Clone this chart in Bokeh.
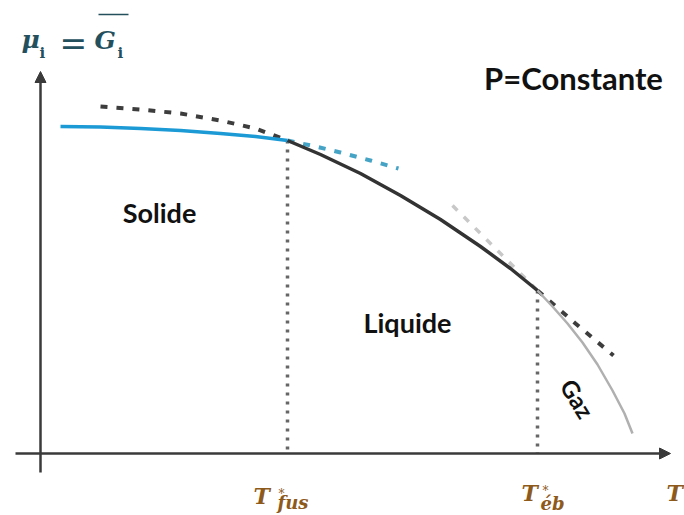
from bokeh.plotting import figure
from bokeh.models import Range1d, Arrow, NormalHead
from bokeh.core.properties import value
from bokeh.embed import file_html
from bokeh.resources import INLINE

# Schematic chemical potential mu_i(T) at constant pressure (arbitrary units)
solid_T = [60, 100, 140, 180, 220, 255, 287]
solid_mu = [389, 388.5, 387, 385, 382, 379, 375]
solid_ext_T = [287, 315, 340, 370, 398]
solid_ext_mu = [375, 369, 363, 355, 347]

liquid_T = [287, 320, 360, 400, 440, 480, 510, 537]
liquid_mu = [375, 361, 342, 320, 296, 269, 247, 225]
liquid_ext_left_T = [100, 140, 180, 220, 255, 287]
liquid_ext_left_mu = [409, 406, 402, 395, 387, 375]
liquid_ext_right_T = [537, 575, 613]
liquid_ext_right_mu = [225, 192, 160]

gas_T = [537, 552, 567, 582, 597, 612, 624, 632]
gas_mu = [225, 209, 192, 173, 151, 125, 102, 82]
gas_ext_T = [452, 488, 537]
gas_ext_mu = [310, 274, 225]

# Transition temperatures and the potential at each crossing
T_fus, mu_fus = 287, 375
T_eb, mu_eb = 537, 225
mu_axis = 62

phase_names = ["Solide", "Liquide", "Gaz"]

p = figure(width=684, height=515, output_backend="svg", toolbar_location=None,
           x_range=Range1d(0, 684), y_range=Range1d(0, 515),
           min_border=0, outline_line_color=None)
p.axis.visible = False
p.grid.visible = False
p.background_fill_color = "white"

# axes drawn as arrows
axis_col = "#3a3a3a"
p.add_layout(Arrow(end=NormalHead(size=11, fill_color=axis_col, line_color=axis_col),
                   x_start=15, y_start=mu_axis, x_end=670, y_end=mu_axis,
                   line_color=axis_col, line_width=2.5))
p.add_layout(Arrow(end=NormalHead(size=11, fill_color=axis_col, line_color=axis_col),
                   x_start=40, y_start=43, x_end=40, y_end=444,
                   line_color=axis_col, line_width=2.5))

# dotted verticals at the transition temperatures
p.line([T_fus, T_fus], [mu_fus, mu_axis], line_color="#666666", line_width=3.5,
       line_dash="3 6")
p.line([T_eb, T_eb], [mu_eb, mu_axis], line_color="#666666", line_width=3.5,
       line_dash="3 6")

# metastable extensions
p.line(liquid_ext_left_T, liquid_ext_left_mu, line_color="#3d3d3d", line_width=4,
       line_dash="7 9")
p.line(liquid_ext_right_T, liquid_ext_right_mu, line_color="#3d3d3d", line_width=4,
       line_dash="7 9")
p.line(solid_ext_T, solid_ext_mu, line_color="#45a3c6", line_width=4, line_dash="7 9")
p.line(gas_ext_T, gas_ext_mu, line_color="#c8c8c8", line_width=3.5, line_dash="7 9")

# stable branches
p.line(solid_T, solid_mu, line_color="#1c9ad6", line_width=3.5)
p.line(liquid_T, liquid_mu, line_color="#333333", line_width=3.5)
p.line(gas_T, gas_mu, line_color="#b0b0b0", line_width=2.5)

# phase labels
sans = value("Lato")
p.text([159, 407], [303, 193], text=phase_names[:2], text_font=sans,
       text_font_style="bold", text_font_size="27px", text_color="#111111",
       text_align="center", text_baseline="middle")
p.text([577], [117], text=[phase_names[2]], angle=-58, angle_units="deg",
       text_font=sans, text_font_style="bold", text_font_size="24px",
       text_color="#111111", text_align="center", text_baseline="middle")
p.text([573], [438], text=["P=Constante"], text_font=sans,
       text_font_style="bold", text_font_size="31px", text_color="#111111",
       text_align="center", text_baseline="middle")

# ordinate label  mu_i = G_i (partial molar)
ylab_col = "#24505e"
serif = value("DejaVu Serif")
p.text([21], [476], text=["μ"], text_font=serif, text_font_style="bold italic",
       text_font_size="25px", text_color=ylab_col, text_baseline="alphabetic")
p.text([39], [463], text=["i"], text_font=serif, text_font_style="bold",
       text_font_size="15px", text_color=ylab_col, text_baseline="alphabetic")
p.text([59], [472], text=["="], text_font=serif, text_font_size="33px",
       text_color=ylab_col, text_baseline="alphabetic")
p.text([94], [475], text=["G"], text_font=serif, text_font_style="bold italic",
       text_font_size="25px", text_color=ylab_col, text_baseline="alphabetic")
p.text([117], [463], text=["i"], text_font=serif, text_font_style="bold",
       text_font_size="15px", text_color=ylab_col, text_baseline="alphabetic")
p.line([98, 128], [501, 501], line_color=ylab_col, line_width=1.5)

# temperature labels
tcol = "#8e5a1c"
p.text([T_fus - 34, T_eb - 16, 666], [20, 23, 23], text=["T", "T", "T"], text_font=serif,
       text_font_style="bold italic", text_font_size="22px", text_color=tcol,
       text_baseline="alphabetic")
p.text([T_fus - 9, T_eb + 5], [22, 25], text=["*", "*"], text_font=serif,
       text_font_size="12px", text_color=tcol, text_baseline="alphabetic")
p.text([T_fus - 10, T_eb + 3], [13, 12], text=["fus", "éb"], text_font=serif,
       text_font_style="bold italic", text_font_size="18px", text_color=tcol,
       text_baseline="alphabetic")

open("out.html", "w").write(file_html(p, INLINE))
